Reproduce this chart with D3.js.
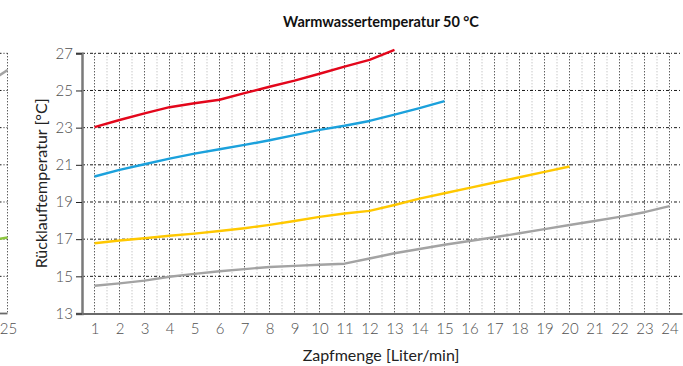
<!DOCTYPE html>
<html><head><meta charset="utf-8">
<script src="https://cdn.jsdelivr.net/npm/d3@7"></script>
<style>
html,body{margin:0;padding:0;background:#fff;}
svg{display:block;font-family:Lato,"Open Sans",sans-serif;}
</style></head>
<body><svg id="c" width="683" height="366"></svg>
<script>
// ---- data ----
const xTicks = d3.range(1, 25);
const yTicks = [13, 15, 17, 19, 21, 23, 25, 27];
const title = "Warmwassertemperatur 50 °C";
const xTitle = "Zapfmenge [Liter/min]";
const yTitle = "Rücklauftemperatur [°C]";

const redX  = [1,2,3,4,5,6,7,8,9,10,11,12,13];
const redY  = [23.03,23.41,23.77,24.1,24.31,24.5,24.86,25.2,25.53,25.9,26.28,26.65,27.18];
const blueX = [1,2,3,4,5,6,7,8,9,10,11,12,13,14,15];
const blueY = [20.37,20.73,21.03,21.33,21.6,21.84,22.07,22.32,22.6,22.88,23.1,23.36,23.7,24.05,24.43];
const yellowX = [1,2,3,4,5,6,7,8,9,10,11,12,13,14,15,16,17,18,19,20];
const yellowY = [16.78,16.93,17.05,17.18,17.3,17.44,17.59,17.77,17.98,18.2,18.38,18.52,18.84,19.18,19.47,19.76,20.05,20.33,20.62,20.91];
const grayX = [1,2,3,4,5,6,7,8,9,10,11,12,13,14,15,16,17,18,19,20,21,22,23,24];
const grayY = [14.49,14.62,14.77,14.98,15.13,15.27,15.39,15.5,15.56,15.62,15.68,15.96,16.24,16.47,16.7,16.9,17.1,17.32,17.54,17.76,17.98,18.2,18.45,18.78];

// neighbouring (cut-off) chart on the left edge
const leftX = [24, 25];
const leftGrayY = [25.2, 26.1];
const leftGreenY = [16.85, 17.09];
const leftTick = [25];

const series = [
  {x: grayX, y: grayY, color: "#a3a3a3"},
  {x: yellowX, y: yellowY, color: "#ffc800"},
  {x: blueX, y: blueY, color: "#1ba1dc"},
  {x: redX, y: redY, color: "#e3061b"}
];

// ---- drawing ----
const svg = d3.select("#c");
const x = d3.scaleLinear().domain([0.5, 24.5]).range([82, 682]);
const y = d3.scaleLinear().domain([13, 27]).range([313.5, 53.3]);

const gridDark = "#1a1a1a";
const gridLight = "#b0b0b0";
const lightFont = "'Lato Light', Lato, sans-serif";

// minor vertical grid (half steps)
svg.append("g").selectAll("line").data(xTicks.map(d => d + 0.5).filter(d => d < 24.5))
  .join("line")
  .attr("x1", d => x(d)).attr("x2", d => x(d))
  .attr("y1", y(27)).attr("y2", y(13))
  .attr("stroke", gridLight).attr("stroke-width", 1).attr("stroke-dasharray", "1,2");
// major vertical grid
svg.append("g").selectAll("line").data(xTicks)
  .join("line")
  .attr("x1", d => x(d)).attr("x2", d => x(d))
  .attr("y1", y(27)).attr("y2", y(13))
  .attr("stroke", gridDark).attr("stroke-width", 1).attr("stroke-dasharray", "1,2");
// horizontal grid
svg.append("g").selectAll("line").data(yTicks.filter(d => d > 13))
  .join("line")
  .attr("x1", x(0.5)).attr("x2", x(24.5))
  .attr("y1", d => y(d)).attr("y2", d => y(d))
  .attr("stroke", gridDark).attr("stroke-width", 1).attr("stroke-dasharray", "3,2,1,2");

// axes
const yAxis = d3.axisLeft(y).tickValues(yTicks).tickSize(6).tickPadding(3).tickFormat(d3.format("d"));
const gy = svg.append("g").attr("transform", `translate(${x(0.5)},0)`).call(yAxis);
gy.select(".domain").attr("stroke", "#7a7a7a").attr("stroke-width", 2.5);
gy.selectAll(".tick line").attr("stroke", "#222");
gy.selectAll(".tick text").attr("font-size", 15).attr("font-weight", 300).attr("fill", "#505050")
  .attr("font-family", lightFont);

const xAxis = d3.axisBottom(x).tickValues(xTicks).tickSize(0).tickPadding(10).tickFormat(d3.format("d"));
const gx = svg.append("g").attr("transform", `translate(0,${y(13)})`).call(xAxis);
gx.select(".domain").attr("stroke", "#6a6a6a").attr("stroke-width", 1.8);
gx.selectAll(".tick text").attr("font-size", 15).attr("font-weight", 300).attr("fill", "#505050")
  .attr("font-family", lightFont);

// series
const line = d3.line().x(d => x(d[0])).y(d => y(d[1]));
series.forEach(s => {
  svg.append("path").datum(d3.zip(s.x, s.y)).attr("d", line)
    .attr("fill", "none").attr("stroke", s.color).attr("stroke-width", 2.4)
    .attr("stroke-linejoin", "round");
});

// left neighbour chart (cut off)
const xl = d3.scaleLinear().domain([24, 25]).range([-17.5, 7.5]);
svg.append("defs").append("clipPath").attr("id", "lc").append("rect")
  .attr("x", 0).attr("y", 0).attr("width", xl(25) + 0.5).attr("height", 366);
const lg = svg.append("g").attr("clip-path", "url(#lc)");
lg.selectAll("line.h").data(yTicks.filter(d => d > 13)).join("line")
  .attr("x1", xl(24)).attr("x2", xl(25))
  .attr("y1", d => y(d)).attr("y2", d => y(d))
  .attr("stroke", gridDark).attr("stroke-dasharray", "3,2,1,2");
lg.append("line").attr("x1", xl(25)).attr("x2", xl(25)).attr("y1", y(27)).attr("y2", y(13))
  .attr("stroke", gridDark).attr("stroke-dasharray", "1,2");
lg.append("line").attr("x1", xl(24)).attr("x2", xl(25)).attr("y1", y(13)).attr("y2", y(13))
  .attr("stroke", "#6a6a6a").attr("stroke-width", 1.8);
const linel = d3.line().x(d => xl(d[0])).y(d => y(d[1]));
lg.append("path").datum(d3.zip(leftX, leftGrayY)).attr("d", linel)
  .attr("fill", "none").attr("stroke", "#a3a3a3").attr("stroke-width", 2.4);
lg.append("path").datum(d3.zip(leftX, leftGreenY)).attr("d", linel)
  .attr("fill", "none").attr("stroke", "#8cc63e").attr("stroke-width", 2.4);
svg.selectAll("text.lt").data(leftTick).join("text").attr("class", "lt")
  .attr("x", d => xl(d) + 1).attr("y", y(13) + 10).attr("dy", "0.71em")
  .attr("text-anchor", "middle").attr("font-size", 15).attr("font-weight", 300).attr("fill", "#505050")
  .attr("font-family", lightFont)
  .text(d => d);

// titles
svg.append("text").attr("x", 381).attr("y", 27).attr("text-anchor", "middle")
  .attr("font-size", 14.5).attr("font-weight", 700).attr("fill", "#111").text(title);
svg.append("text").attr("x", 381).attr("y", 361).attr("text-anchor", "middle")
  .attr("font-size", 16).attr("font-weight", 400).attr("fill", "#222").text(xTitle);
svg.append("text").attr("transform", `translate(47,${(y(13) + y(27)) / 2}) rotate(-90)`)
  .attr("text-anchor", "middle").attr("font-size", 16).attr("font-weight", 400).attr("fill", "#222").text(yTitle);
</script></body></html>
